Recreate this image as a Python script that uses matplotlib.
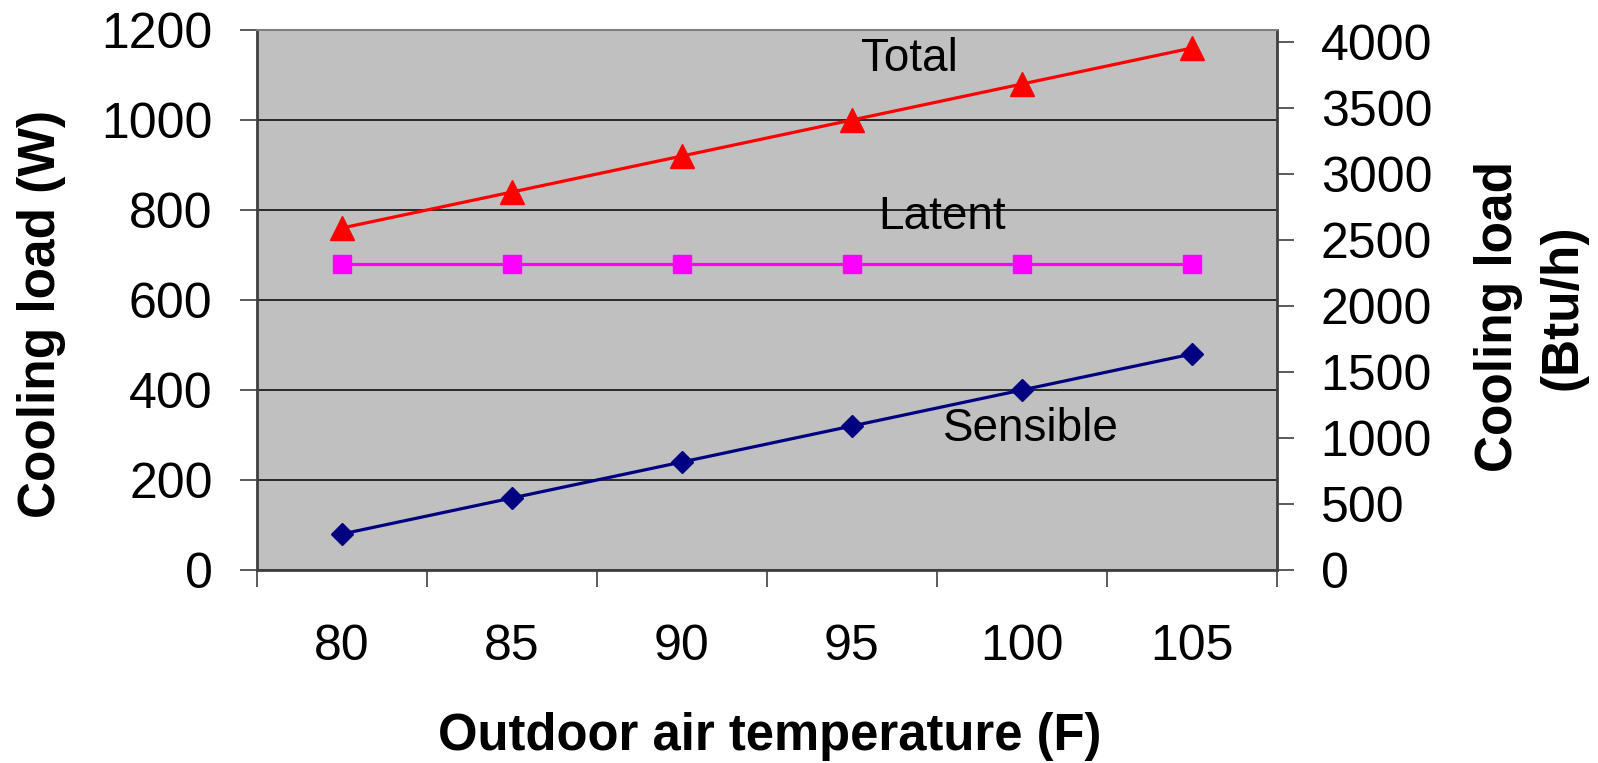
import matplotlib
matplotlib.use('Agg')
import matplotlib.pyplot as plt
from matplotlib.ticker import FixedLocator, MultipleLocator

# data
temps = ['80', '85', '90', '95', '100', '105']
total = [760, 840, 920, 1000, 1080, 1160]
latent = [680, 680, 680, 680, 680, 680]
sensible = [80, 160, 240, 320, 400, 480]
w_to_btuh = 3.412

plt.rcParams['font.family'] = ['Liberation Sans', 'DejaVu Sans']

fig = plt.figure(figsize=(15.98, 7.63), dpi=100)
ax = fig.add_axes([257 / 1598, 1 - 570 / 763, 1020 / 1598, 540 / 763])
ax.set_facecolor('#c0c0c0')

x = list(range(len(temps)))
ax.plot(x, total, color='#ff0000', lw=2.3, marker='^', ms=17, zorder=5, clip_on=False)
ax.plot(x, latent, color='#ff00ff', lw=2.3, marker='s', ms=13, zorder=5, clip_on=False)
ax.plot(x, sensible, color='#000080', lw=2.3, marker='D', ms=11.5, zorder=5, clip_on=False)

ax.set_xlim(-0.5, len(temps) - 0.5)
ax.set_ylim(0, 1200)
ax.yaxis.set_major_locator(MultipleLocator(200))
ax.grid(axis='y', color='black', lw=1.1, zorder=1)
ax.set_axisbelow(True)

# category labels at centres, tick marks at boundaries
ax.set_xticks(x)
ax.set_xticklabels(temps)
ax.xaxis.set_minor_locator(FixedLocator([i - 0.5 for i in range(len(temps) + 1)]))
ax.tick_params(axis='x', which='major', length=0, pad=39, labelsize=36)
ax.tick_params(axis='x', which='minor', length=12, width=1.2, color='#404040')
ax.tick_params(axis='y', length=12, width=1.2, color='#404040', pad=20, labelsize=36)

for side in ['left', 'bottom', 'right']:
    ax.spines[side].set_color('#404040')
    ax.spines[side].set_linewidth(2)
ax.spines['top'].set_color('#808080')
ax.spines['top'].set_linewidth(1.5)

ax2 = ax.twinx()
ax2.set_ylim(0, 1200 * w_to_btuh)
ax2.yaxis.set_major_locator(MultipleLocator(500))
ax2.tick_params(axis='y', length=12, width=1.2, color='#404040', pad=19.5, labelsize=36)
for s in ax2.spines.values():
    s.set_visible(False)

ax.text(3.34, 1135, 'Total', fontsize=33, ha='center', va='center', zorder=6)
ax.text(3.53, 785, 'Latent', fontsize=33, ha='center', va='center', zorder=6)
ax.text(4.05, 314, 'Sensible', fontsize=33, ha='center', va='center', zorder=6)

fig.text(55 / 1598, 1 - 313.5 / 763, 'Cooling load (W)', fontsize=37, fontweight='bold',
         rotation=90, rotation_mode='anchor', ha='center', va='baseline')
fig.text(1512 / 1598, 1 - 316 / 763, 'Cooling load', fontsize=37, fontweight='bold',
         rotation=90, rotation_mode='anchor', ha='center', va='baseline')
fig.text(1577 / 1598, 1 - 307 / 763, '(Btu/h)', fontsize=37, fontweight='bold',
         rotation=90, rotation_mode='anchor', ha='center', va='baseline')
fig.text(770 / 1598, 1 - 750 / 763, 'Outdoor air temperature (F)', fontsize=36.5,
         fontweight='bold', ha='center', va='baseline')

fig.savefig('out.png', dpi=100)
